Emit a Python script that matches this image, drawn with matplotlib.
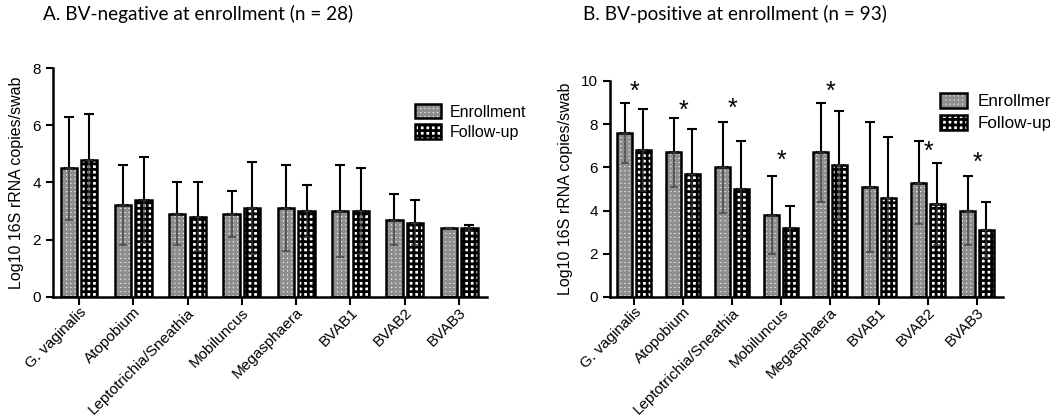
import numpy as np
import matplotlib
matplotlib.use("Agg")
import matplotlib.pyplot as plt
from matplotlib.transforms import ScaledTranslation

# ---------------- data ----------------
categories = ["G. vaginalis", "Atopobium", "Leptotrichia/Sneathia", "Mobiluncus",
              "Megasphaera", "BVAB1", "BVAB2", "BVAB3"]
series_names = ["Enrollment", "Follow-up"]

neg_enroll_mean = [4.5, 3.2, 2.9, 2.9, 3.1, 3.0, 2.7, 2.4]
neg_enroll_sd = [1.8, 1.4, 1.1, 0.8, 1.5, 1.6, 0.9, 0.0]
neg_follow_mean = [4.8, 3.4, 2.8, 3.1, 3.0, 3.0, 2.6, 2.4]
neg_follow_sd = [1.6, 1.5, 1.2, 1.6, 0.9, 1.5, 0.8, 0.1]

pos_enroll_mean = [7.6, 6.7, 6.0, 3.8, 6.7, 5.1, 5.3, 4.0]
pos_enroll_sd = [1.4, 1.6, 2.1, 1.8, 2.3, 3.0, 1.9, 1.6]
pos_follow_mean = [6.8, 5.7, 5.0, 3.2, 6.1, 4.6, 4.3, 3.1]
pos_follow_sd = [1.9, 2.1, 2.2, 1.0, 2.5, 2.8, 1.9, 1.3]

pos_star_heights = [9.7, 8.8, 8.9, 6.5, 9.7, np.nan, 6.9, 6.4]

neg_yticks = [0, 2, 4, 6, 8]
pos_yticks = [0, 2, 4, 6, 8, 10]

title_a = "A. BV-negative at enrollment (n = 28)"
title_b = "B. BV-positive at enrollment (n = 93)"
ylabel = "Log10 16S rRNA copies/swab"

# ---------------- style ----------------
plt.rcParams["hatch.linewidth"] = 2.0
plt.rcParams["font.family"] = ["Liberation Sans", "DejaVu Sans"]
W, H = 1050, 419
fig = plt.figure(figsize=(W / 100, H / 100), dpi=100)

BAR_W = 0.3
OFF = 0.19
EDGE_LW = 1.8

enroll_style = dict(face="#ececec", hatchcol="#8e8e8e", hatch="++++")
follow_style = dict(face="white", hatchcol="black", hatch="+++")


def draw_series(ax, x, vals, sd, style):
    fill = ax.bar(x, vals, BAR_W, color=style["face"], edgecolor=style["hatchcol"],
                  hatch=style["hatch"], linewidth=0, zorder=2)
    edge = ax.bar(x, vals, BAR_W, fill=False, edgecolor="black",
                  linewidth=EDGE_LW, zorder=3)
    sd = np.asarray(sd)
    zeros = np.zeros_like(sd)
    ax.errorbar(x, vals, yerr=[zeros, sd], fmt="none", ecolor="black",
                elinewidth=1.5, capsize=3.6, capthick=1.5, zorder=4)
    ax.errorbar(x, vals, yerr=[sd, zeros], fmt="none", ecolor="#3a3a3a",
                elinewidth=1.2, capsize=3.0, capthick=1.2, zorder=4, alpha=0.8)
    return (fill, edge)


def setup_axes(rect, ylim, yticks, xlim):
    ax = fig.add_axes(rect)
    ax.set_xlim(*xlim)
    ax.set_ylim(*ylim)
    ax.set_yticks(yticks)
    ax.set_xticks(np.arange(len(categories)))
    ax.set_xticklabels(categories, rotation=45, ha="right", va="top",
                       rotation_mode="anchor", fontsize=10.5)
    shift = ScaledTranslation(5 / 100, 0, fig.dpi_scale_trans)
    for lab in ax.get_xticklabels():
        lab.set_transform(lab.get_transform() + shift)
    for s in ["top", "right"]:
        ax.spines[s].set_visible(False)
    for s in ["left", "bottom"]:
        ax.spines[s].set_linewidth(1.8)
    ax.tick_params(axis="both", width=1.5, length=5, labelsize=11, color="black")
    ax.tick_params(axis="x", length=6, pad=0)
    ax.set_ylabel(ylabel, fontsize=11.5, labelpad=6)
    return ax


x = np.arange(len(categories))

# Left panel
axL = setup_axes([53 / W, 1 - 297 / H, (487 - 53) / W, (297 - 68) / H],
                 (0, 8), neg_yticks, (-0.479, 7.514))
hL1 = draw_series(axL, x - OFF, neg_enroll_mean, neg_enroll_sd, enroll_style)
hL2 = draw_series(axL, x + OFF, neg_follow_mean, neg_follow_sd, follow_style)

# Right panel
axR = setup_axes([610 / W, 1 - 297 / H, (1003 - 610) / W, (297 - 81) / H],
                 (0, 10), pos_yticks, (-0.49, 7.53))
hR1 = draw_series(axR, x - OFF, pos_enroll_mean, pos_enroll_sd, enroll_style)
hR2 = draw_series(axR, x + OFF, pos_follow_mean, pos_follow_sd, follow_style)

star_shift = ScaledTranslation(0, -4 / 100, fig.dpi_scale_trans)
for xi, yi in zip(x, pos_star_heights):
    if not np.isnan(yi):
        axR.text(xi, yi, "*", ha="center", va="center", fontsize=18,
                 zorder=5, transform=axR.transData + star_shift)

leg_kw = dict(frameon=False, borderpad=0, borderaxespad=0,
              handlelength=1.6, handleheight=1.0, handletextpad=0.6,
              labelspacing=0.3, loc="upper left")
axL.legend([hL1, hL2], series_names, bbox_to_anchor=(415 / W, 1 - 104 / H),
           bbox_transform=fig.transFigure, fontsize=11.5, **leg_kw)
axR.legend([hR1, hR2], series_names, bbox_to_anchor=(940 / W, 1 - 93 / H),
           bbox_transform=fig.transFigure, fontsize=12.3, **leg_kw)

fig.text(43 / W, 1 - 14 / H, title_a, fontsize=13.7, family=["Lato", "DejaVu Sans"],
         va="center", ha="left")
fig.text(583 / W, 1 - 14 / H, title_b, fontsize=13.7, family=["Lato", "DejaVu Sans"],
         va="center", ha="left")

fig.savefig("out.png", dpi=100)
